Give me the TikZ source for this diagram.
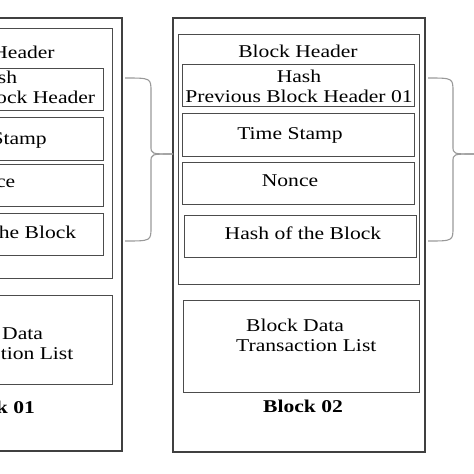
\documentclass[tikz,border=0pt]{standalone}
\usepackage{fontspec}
\setmainfont{Liberation Serif}[FakeStretch=1.2]
\tikzset{
  outerbox/.style={draw=black!75, line width=1.1pt},
  innerbox/.style={draw=black!70, line width=1pt},
  bracket/.style={draw=black!40, line width=1.1pt},
  txt/.style={anchor=base, inner sep=0pt, font=\fontsize{18}{20}\selectfont}
}
\begin{document}
\begin{tikzpicture}[x=1pt, y=-1pt]
  \useasboundingbox (0,0) rectangle (474,474);
  \begin{scope}
    % block 01
    \draw [outerbox] (-130, 18) rectangle (122, 451);
    \draw [innerbox] (-125, 28) rectangle (112, 278);
    \draw [innerbox] (-121, 68) rectangle (103, 110);
    \draw [innerbox] (-121, 117) rectangle (103, 160);
    \draw [innerbox] (-121, 164) rectangle (103, 206);
    \draw [innerbox] (-121, 213) rectangle (103, 255);
    \draw [innerbox] (-120, 295) rectangle (112, 384);

    \node [txt] (hdrA) at (-5, 58) {Block Header};
    \node [txt, align=center] (prevA) at (-5, 103) {Hash\\Previous Block Header};
    \node [txt] (timeA) at (-6, 144) {Time Stamp};
    \node [txt] (nonceA) at (-13, 187) {Nonce};
    \node [txt] (hashA) at (-2, 238) {Hash of the Block};
    \node [txt, anchor=base west, align=left] (dataA) at (-67, 359) {\hspace*{12pt}Block Data\\Transaction List};
    \node [txt, font=\fontsize{18}{20}\selectfont\bfseries] (blkA) at (-5, 413) {Block 01};
  \end{scope}

  \begin{scope}
    % block 02
    \draw [outerbox] (173, 18) rectangle (425, 452);
    \draw [innerbox] (178, 34) rectangle (419, 284);
    \draw [innerbox] (182, 64) rectangle (414, 106);
    \draw [innerbox] (182, 113) rectangle (414, 156);
    \draw [innerbox] (182, 162) rectangle (414, 204);
    \draw [innerbox] (184, 215) rectangle (416, 257);
    \draw [innerbox] (183, 300) rectangle (419, 392);

    \node [txt] (hdrB) at (298, 57) {Block Header};
    \node [txt, align=center] (prevB) at (299, 102) {Hash\\Previous Block Header 01};
    \node [txt] (timeB) at (290, 139) {Time Stamp};
    \node [txt] (nonceB) at (290, 186) {Nonce};
    \node [txt] (hashB) at (303, 239) {Hash of the Block};
    \node [txt, anchor=base west, align=left] (dataB) at (236, 351) {\hspace*{10pt}Block Data\\Transaction List};
    \node [txt, font=\fontsize{18}{20}\selectfont\bfseries] (blkB) at (303, 412) {Block 02};
  \end{scope}

  % braces
  \coordinate (braceA) at (125, 78);
  \coordinate (tipA) at (173, 154);
  \coordinate (braceB) at (428, 78);
  \coordinate (tipB) at (474, 154);
  \draw [bracket] (braceA) .. controls (151, 78) .. (151, 92) -- (151, 146)
    .. controls (151, 154) .. (tipA);
  \draw [bracket] (tipA) .. controls (151, 154) .. (151, 162) -- (151, 227)
    .. controls (151, 241) .. (125, 241);
  \draw [bracket] (braceB) .. controls (453, 78) .. (453, 92) -- (453, 146)
    .. controls (453, 154) .. (tipB);
  \draw [bracket] (tipB) .. controls (453, 154) .. (453, 162) -- (453, 227)
    .. controls (453, 241) .. (428, 241);
\end{tikzpicture}
\end{document}
